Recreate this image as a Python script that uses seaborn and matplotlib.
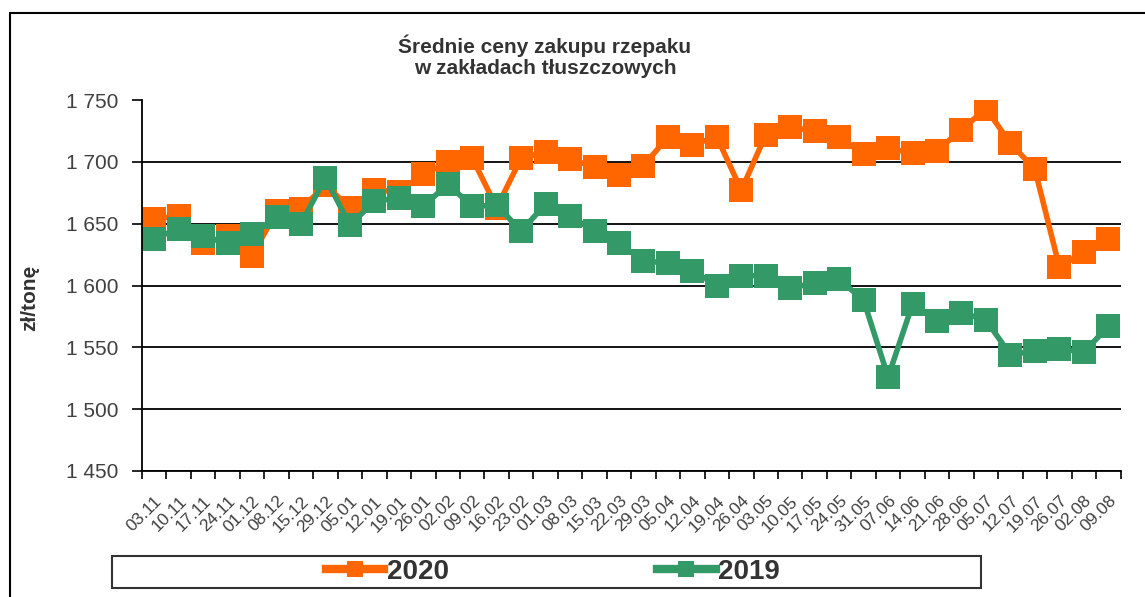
import numpy as np
import pandas as pd
import matplotlib
matplotlib.use("Agg")
import matplotlib.pyplot as plt
from matplotlib.patches import Rectangle
from matplotlib.lines import Line2D
import seaborn as sns

# tygodnie notowań
weeks = ["03.11", "10.11", "17.11", "24.11", "01.12", "08.12", "15.12", "29.12",
         "05.01", "12.01", "19.01", "26.01", "02.02", "09.02", "16.02", "23.02",
         "01.03", "08.03", "15.03", "22.03", "29.03", "05.04", "12.04", "19.04",
         "26.04", "03.05", "10.05", "17.05", "24.05", "31.05", "07.06", "14.06",
         "21.06", "28.06", "05.07", "12.07", "19.07", "26.07", "02.08", "09.08"]

price_2020 = [1654, 1656, 1634, 1640, 1624, 1660, 1662, 1681, 1663, 1677,
              1676, 1690, 1700, 1703, 1663, 1703, 1708, 1702, 1696, 1689,
              1697, 1720, 1714, 1720, 1677, 1722, 1728, 1725, 1720, 1706,
              1711, 1707, 1709, 1726, 1743, 1715, 1694, 1615, 1627, 1638]

price_2019 = [1638, 1646, 1640, 1634, 1642, 1655, 1650, 1687, 1649, 1668,
              1671, 1664, 1682, 1664, 1665, 1644, 1666, 1656, 1644, 1634,
              1620, 1618, 1612, 1600, 1608, 1608, 1598, 1602, 1605, 1588,
              1526, 1585, 1571, 1578, 1572, 1544, 1547, 1549, 1546, 1567]

series = ["2020", "2019"]
colors = {"2020": "#FF6600", "2019": "#339966"}

df = pd.DataFrame({
    "poz": list(range(len(weeks))) * 2,
    "cena": price_2020 + price_2019,
    "rok": ["2020"] * len(weeks) + ["2019"] * len(weeks),
})

plt.rcParams["font.family"] = ["Liberation Sans", "DejaVu Sans"]

fig = plt.figure(figsize=(11.45, 5.97), dpi=100)
ax = fig.add_axes([142 / 1145, 1 - 471 / 597, (1120.5 - 142) / 1145, (471 - 100) / 597])

sns.lineplot(data=df, x="poz", y="cena", hue="rok", hue_order=series,
             palette=colors, marker="s", markersize=17, markeredgewidth=0,
             linewidth=4, legend=False, ax=ax)

ax.set_xlim(-0.5, len(weeks) - 0.5)
ax.set_ylim(1450, 1750)
ax.set_yticks(np.arange(1450, 1751, 50))
ax.set_yticklabels([f"{v // 1000} {v % 1000:03d}" for v in range(1450, 1751, 50)],
                   fontsize=15, color="#404040")
ax.set_xticks(range(len(weeks)))
ax.set_xticklabels(weeks, rotation=45, ha="right", rotation_mode="anchor",
                   fontsize=12.5, color="#404040")
ax.set_xticks(np.arange(-0.5, len(weeks)), minor=True)
ax.tick_params(axis="x", which="major", length=0, pad=16)
ax.tick_params(axis="x", which="minor", length=6, width=1.2, color="black")
ax.tick_params(axis="y", length=7, width=1.2, color="black", pad=10)

ax.grid(axis="y", color="black", linewidth=1.3)
ax.get_ygridlines()[-1].set_visible(False)
ax.set_axisbelow(True)
for s in ["top", "right"]:
    ax.spines[s].set_visible(False)
for s in ["left", "bottom"]:
    ax.spines[s].set_color("black")
    ax.spines[s].set_linewidth(1.3)

ax.set_xlabel("")
ax.set_ylabel("")
fig.text(30 / 1145, 1 - 298 / 597, "zł/tonę", rotation=90, ha="center", va="center",
         fontsize=15, fontweight="bold", color="#333333")

fig.text(545 / 1145, 1 - 56 / 597, "Średnie ceny zakupu rzepaku\nw zakładach tłuszczowych",
         ha="center", va="center", fontsize=15, fontweight="bold", color="#333333",
         linespacing=1.1)

# ramka wykresu
fig.patches.append(Rectangle((10 / 1145, -0.1), 1.2, 1.1 - 13 / 597,
                             transform=fig.transFigure, fill=False,
                             edgecolor="black", linewidth=1.5))

# ramka legendy
fig.patches.append(Rectangle((112 / 1145, 1 - 588 / 597), (981 - 112) / 1145, 32 / 597,
                             transform=fig.transFigure, fill=False,
                             edgecolor="#333333", linewidth=1.5))

handles = [Line2D([], [], color=colors[s], marker="s", markersize=12,
                  markeredgewidth=0, linewidth=6) for s in series]
leg = fig.legend(handles, series, loc="center",
                 bbox_to_anchor=(553 / 1145, 1 - 572 / 597),
                 ncol=2, frameon=False,
                 prop={"weight": "bold", "size": 20}, handlelength=2.1,
                 handletextpad=0.1, columnspacing=7.5, borderpad=0.0)
for t in leg.get_texts():
    t.set_color("#333333")

fig.savefig("out.png", dpi=100)
